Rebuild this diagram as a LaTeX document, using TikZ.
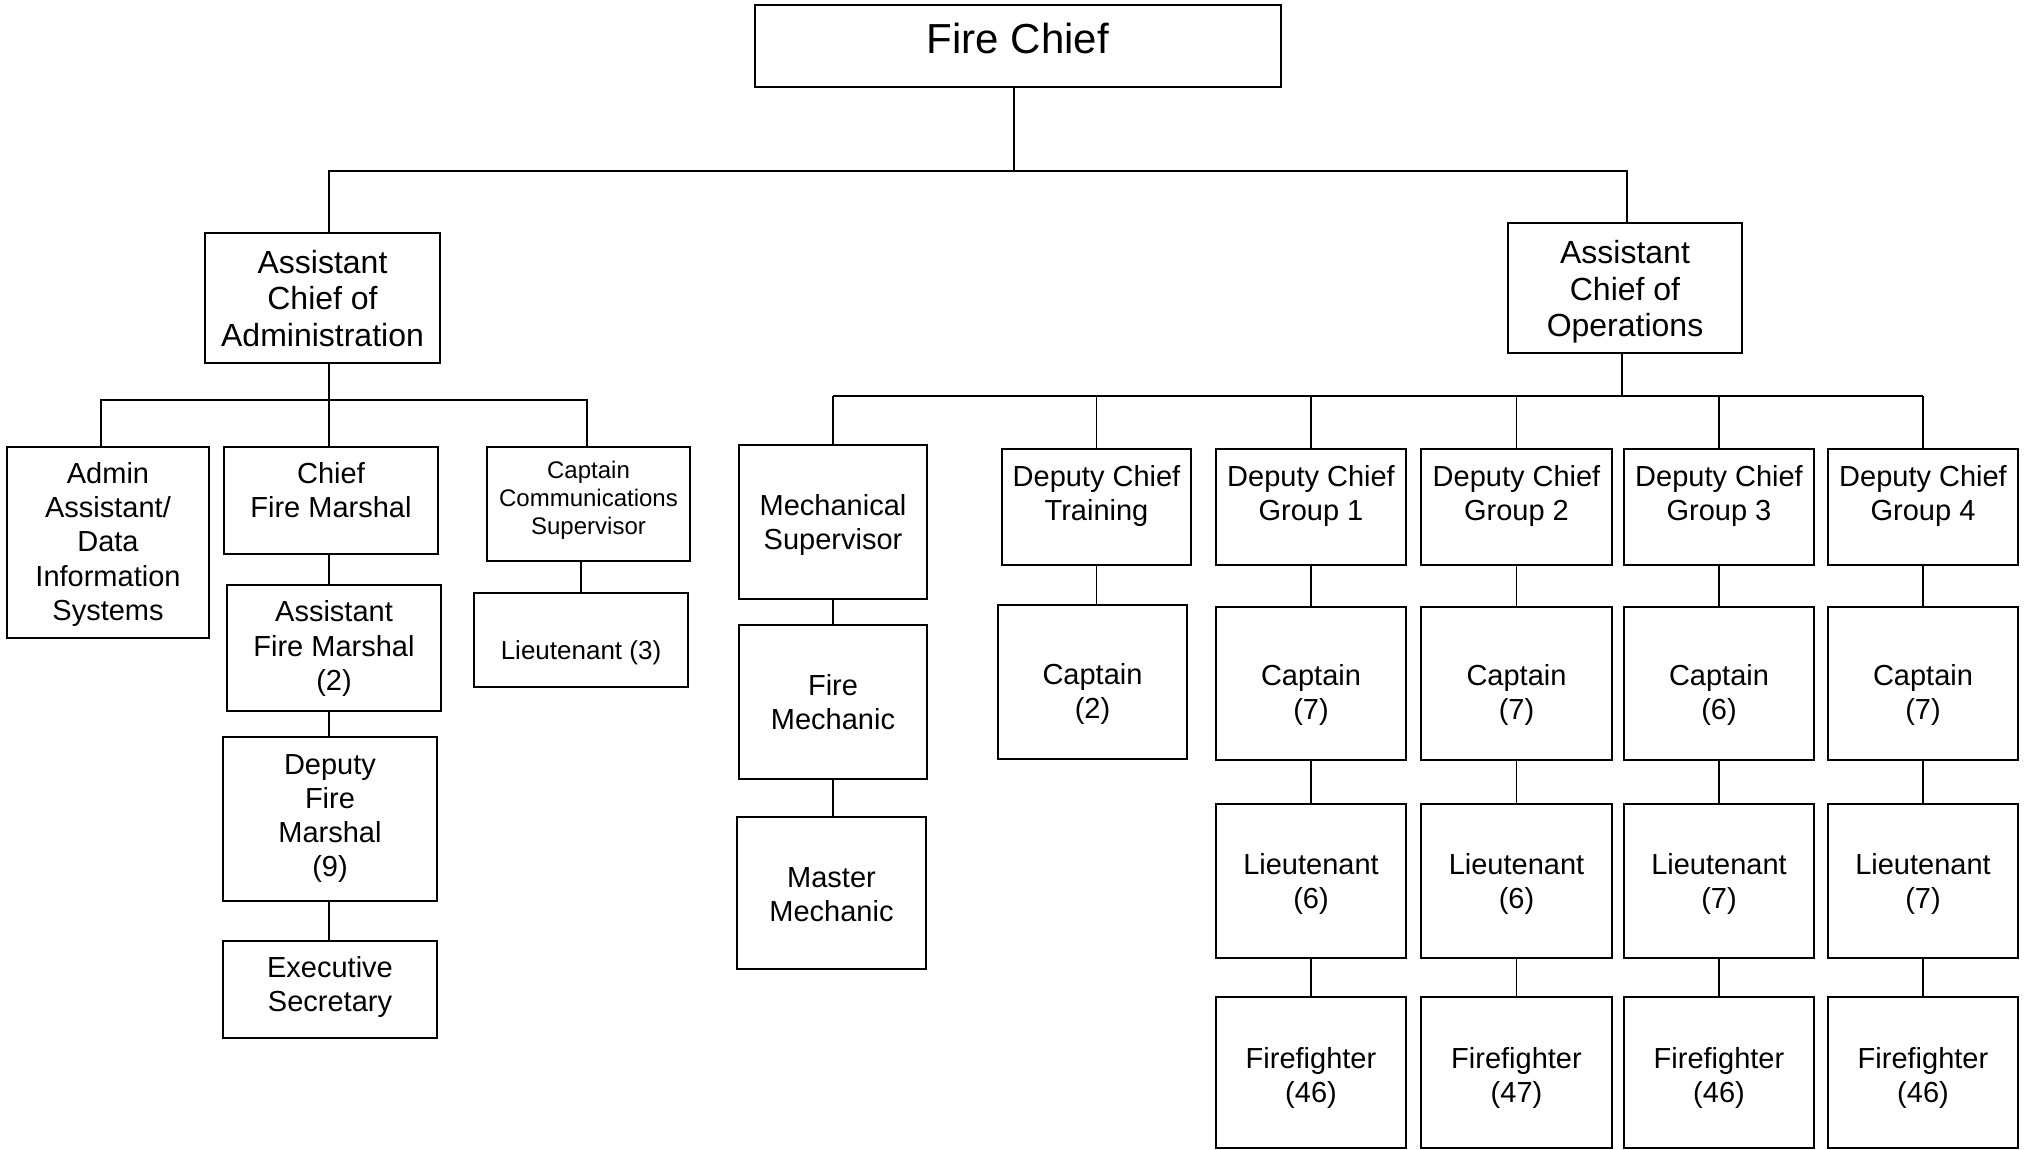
\documentclass[tikz,border=0pt]{standalone}
\usepackage{fontspec}
\setmainfont{Liberation Sans}

% one text line whose box is centred on the middle of its capitals
\newcommand\rowtxt[1]{\rule[\dimexpr0.358em-0.5\baselineskip\relax]{0pt}{\baselineskip}\smash{#1}}

% #1 name, #2 left, #3 top, #4 right, #5 bottom, #6 text centre y, #7 text style, #8 text
\newcommand\orgbox[8]{%
  \node[box, minimum width={(#4-#2)*0.5pt}, minimum height={(#5-#3)*0.5pt}]
    (#1) at ({(#2+#4)/2},{(#3+#5)/2}) {};
  \node[#7] (#1-t) at ({(#2+#4)/2},#6) {#8};
}

\tikzset{
  box/.style={draw, rectangle, line width=1.2pt, inner sep=0pt, outer sep=0pt},
  conn/.style={draw, line width=0.9pt},
  txt/.style={align=center, inner sep=0pt, font=\fontsize{14.5}{17.1}\selectfont},
  txtbig/.style={txt, font=\fontsize{16}{18.25}\selectfont},
  txtsmall/.style={txt, font=\fontsize{12}{13.8}\selectfont},
  txtlt/.style={txt, font=\fontsize{13}{15}\selectfont},
  txtchief/.style={txt, font=\fontsize{21}{24}\selectfont},
}

\begin{document}
\begin{tikzpicture}[x=0.5pt, y=-0.5pt]
\fill[white] (0,0) rectangle (2025,1150);
\path[use as bounding box] (0,0) rectangle (2025,1150);

% ---- top ----
\orgbox{FC}{755}{5}{1281}{87}{38}{txtchief}{\rowtxt{Fire Chief}}
\orgbox{ACA}{205}{233}{440}{363}{298.5}{txtbig}{\rowtxt{Assistant}\\\rowtxt{Chief of}\\\rowtxt{Administration}}
\orgbox{ACO}{1508}{223}{1742}{353}{289}{txtbig}{\rowtxt{Assistant}\\\rowtxt{Chief of}\\\rowtxt{Operations}}

% ---- administration branch ----
\orgbox{AA}{7}{447}{209}{638}{541.6}{txt}{\rowtxt{Admin}\\\rowtxt{Assistant/}\\\rowtxt{Data}\\\rowtxt{Information}\\\rowtxt{Systems}}
\orgbox{CFM}{224}{447}{438}{554}{490.5}{txt}{\rowtxt{Chief}\\\rowtxt{Fire Marshal}}
\orgbox{AFM}{227}{585}{441}{711}{645.7}{txt}{\rowtxt{Assistant}\\\rowtxt{Fire Marshal}\\\rowtxt{(2)}}
\orgbox{DFM}{223}{737}{437}{901}{815}{txt}{\rowtxt{Deputy}\\\rowtxt{Fire}\\\rowtxt{Marshal}\\\rowtxt{(9)}}
\orgbox{ES}{223}{941}{437}{1038}{984.5}{txt}{\rowtxt{Executive}\\\rowtxt{Secretary}}
\orgbox{CCS}{487}{447}{690}{561}{498}{txtsmall}{\rowtxt{Captain}\\\rowtxt{Communications}\\\rowtxt{Supervisor}}
\orgbox{LTC}{474}{593}{688}{687}{650}{txtlt}{\rowtxt{Lieutenant (3)}}

% ---- operations branch ----
\orgbox{MS}{739}{445}{927}{599}{522}{txt}{\rowtxt{Mechanical}\\\rowtxt{Supervisor}}
\orgbox{FM}{739}{625}{927}{779}{702.5}{txt}{\rowtxt{Fire}\\\rowtxt{Mechanic}}
\orgbox{MM}{737}{817}{926}{969}{894}{txt}{\rowtxt{Master}\\\rowtxt{Mechanic}}
\orgbox{DCT}{1002}{449}{1191}{565}{493}{txt}{\rowtxt{Deputy Chief}\\\rowtxt{Training}}
\orgbox{CPT}{998}{605}{1187}{759}{691.5}{txt}{\rowtxt{Captain}\\\rowtxt{(2)}}

\coordinate (busOps) at (0,396);
\foreach \k/\xa/\xb/\cp/\lt/\ff in {1/1216/1406/7/6/46, 2/1421/1612/7/6/47,
                                    3/1624/1814/6/7/46, 4/1828/2018/7/7/46}{
  \orgbox{DC\k}{\xa}{449}{\xb}{565}{493}{txt}{\rowtxt{Deputy Chief}\\\rowtxt{Group \k}}
  \orgbox{CP\k}{\xa}{607}{\xb}{760}{692.5}{txt}{\rowtxt{Captain}\\\rowtxt{(\cp)}}
  \orgbox{LT\k}{\xa}{804}{\xb}{958}{881.5}{txt}{\rowtxt{Lieutenant}\\\rowtxt{(\lt)}}
  \orgbox{FF\k}{\xa}{997}{\xb}{1148}{1075}{txt}{\rowtxt{Firefighter}\\\rowtxt{(\ff)}}
  \draw[conn] (DC\k.north |- busOps) -- (DC\k.north);
  \draw[conn] (DC\k.south) -- (DC\k.south |- CP\k.north);
  \draw[conn] (CP\k.south) -- (CP\k.south |- LT\k.north);
  \draw[conn] (LT\k.south) -- (LT\k.south |- FF\k.north);
}

% ---- connectors: top ----
\coordinate (busTop) at (0,171);
\coordinate (fcDrop) at ([xshift=-2pt]FC.south);
\coordinate (acaTop) at ([xshift=3.25pt]ACA.north);
\coordinate (acoTop) at ([xshift=1pt]ACO.north);
\draw[conn] (fcDrop) -- (fcDrop |- busTop);
\draw[conn] (acaTop) -- (acaTop |- busTop) -- (acoTop |- busTop) -- (acoTop);

% ---- connectors: administration ----
\coordinate (busAdm) at (0,400);
\coordinate (acaBot) at ([xshift=3.25pt]ACA.south);
\coordinate (aaTop) at ([xshift=-3.5pt]AA.north);
\coordinate (ccsTop) at ([xshift=-0.75pt]CCS.north);
\draw[conn] (acaBot) -- (acaBot |- busAdm);
\draw[conn] (aaTop) -- (aaTop |- busAdm) -- (ccsTop |- busAdm) -- (ccsTop);
\draw[conn] (acaBot |- busAdm) -- (acaBot |- CFM.north);
\draw[conn] (acaBot |- CFM.south) -- (acaBot |- AFM.north);
\draw[conn] (acaBot |- AFM.south) -- (acaBot |- DFM.north);
\draw[conn] (acaBot |- DFM.south) -- (acaBot |- ES.north);
\draw[conn] (LTC.north |- CCS.south) -- (LTC.north);

% ---- connectors: operations ----
\coordinate (acoBot) at ([xshift=-1.5pt]ACO.south);
\draw[conn] (acoBot) -- (acoBot |- busOps);
\draw[conn] (MS.north |- busOps) -- (DC4.north |- busOps);
\draw[conn] (MS.north |- busOps) -- (MS.north);
\draw[conn] (MS.south) -- (MS.south |- FM.north);
\draw[conn] (FM.south) -- (FM.south |- MM.north);
\draw[conn] (DCT.north |- busOps) -- (DCT.north);
\draw[conn] (DCT.south) -- (DCT.south |- CPT.north);
\end{tikzpicture}
\end{document}
